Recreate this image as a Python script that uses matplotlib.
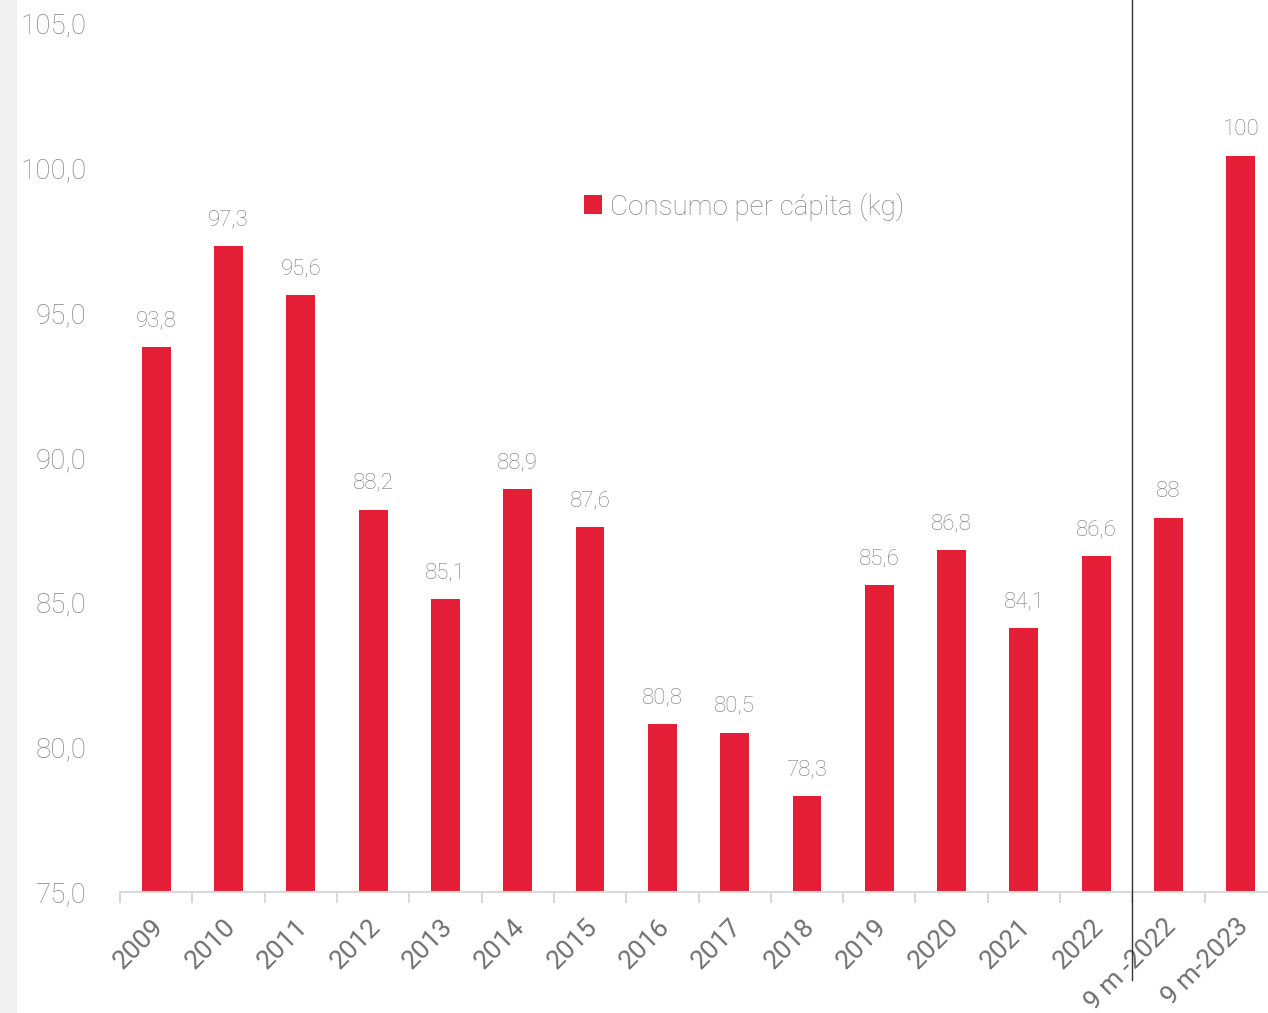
import matplotlib
matplotlib.use("Agg")
import matplotlib.pyplot as plt
from matplotlib.patches import Rectangle

categories = ["2009", "2010", "2011", "2012", "2013", "2014", "2015", "2016",
              "2017", "2018", "2019", "2020", "2021", "2022", "9 m -2022", "9 m-2023"]
values = [93.8, 97.3, 95.6, 88.2, 85.1, 88.9, 87.6, 80.8,
          80.5, 78.3, 85.6, 86.8, 84.1, 86.6, 87.9, 100.4]
value_labels = ["93,8", "97,3", "95,6", "88,2", "85,1", "88,9", "87,6", "80,8",
                "80,5", "78,3", "85,6", "86,8", "84,1", "86,6", "88", "100"]
yticks = [75, 80, 85, 90, 95, 100, 105]
ytick_labels = ["75,0", "80,0", "85,0", "90,0", "95,0", "100,0", "105,0"]
series_name = "Consumo per cápita (kg)"

plt.rcParams['font.family'] = ['Roboto', 'DejaVu Sans']
RED = "#E31E36"
GRAY = "#858585"

W, H = 1268, 1013
fig = plt.figure(figsize=(W / 100, H / 100), dpi=100)
fig.patches.append(Rectangle((0, 0), 17 / W, 1, transform=fig.transFigure,
                             facecolor="#f0f0f0", edgecolor="none", zorder=0))

left_px, right_px, top_px, bot_px = 120, 1277, 23, 892
ax = fig.add_axes([left_px / W, 1 - bot_px / H, (right_px - left_px) / W, (bot_px - top_px) / H])
ax.patch.set_alpha(0)

x = list(range(len(categories)))
bars = ax.bar(x, [v - 75 for v in values], bottom=75, width=0.4, color=RED,
              label=series_name, zorder=2)
for xi, v, lab in zip(x, values, value_labels):
    ax.text(xi, v + 0.55, lab, ha="center", va="bottom", fontsize=16,
            color="#7a7a7a", fontweight="light")

ax.set_xlim(-0.5, len(categories) - 0.5)
ax.set_ylim(75, 105)
ax.set_yticks(yticks)
ax.set_yticklabels(ytick_labels, fontsize=20, color=GRAY, fontweight="light")
ax.tick_params(axis="y", length=0, pad=24)

ax.set_xticks([xi - 0.07 for xi in x])
ax.set_xticklabels(categories, rotation=45, ha="right", rotation_mode="anchor",
                   fontsize=19, color="#6f6f6f")
ax.tick_params(axis="x", which="major", length=0, pad=16)
ax.set_xticks([i - 0.5 for i in range(len(categories) + 1)], minor=True)
ax.tick_params(axis="x", which="minor", length=8, width=1.5, color="#d9d9d9")

for s in ["top", "right", "left"]:
    ax.spines[s].set_visible(False)
ax.spines["bottom"].set_color("#d9d9d9")
ax.spines["bottom"].set_linewidth(1.5)

ax.axvline(13.5, ymin=-(980 - bot_px) / (bot_px - top_px), ymax=bot_px / (bot_px - top_px),
           color="#333333", linewidth=1, clip_on=False, zorder=3)

leg = ax.legend(loc="upper left", bbox_to_anchor=((573 - left_px) / (right_px - left_px),
                                                   1 - (181 - top_px) / (bot_px - top_px)),
                frameon=False, fontsize=20, handlelength=0.65, handleheight=0.65,
                handletextpad=0.3, borderaxespad=0)
for t in leg.get_texts():
    t.set_color(GRAY)
    t.set_fontweight("light")

fig.savefig("out.png", dpi=100)
